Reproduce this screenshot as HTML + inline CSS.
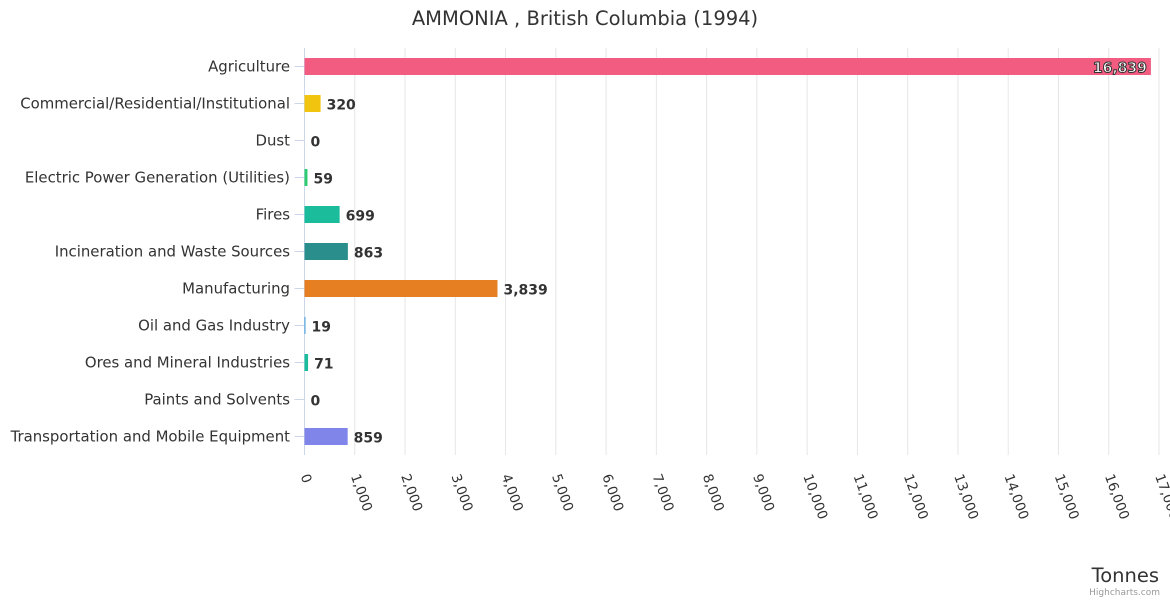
<!DOCTYPE html>
<html><head><meta charset="utf-8"><style>
body{margin:0;background:#fff;font-family:"DejaVu Sans",sans-serif;}
</style></head><body>
<svg id="chart" width="1170" height="600" xmlns="http://www.w3.org/2000/svg" font-family="'DejaVu Sans',sans-serif">
<text x="585" y="25" text-anchor="middle" font-size="19.5" fill="#333">AMMONIA , British Columbia (1994)</text>
<g id="grid"></g><g id="bars"></g><g id="labels"></g><g id="xt"></g>
<text x="1159" y="582" text-anchor="end" font-size="19.5" fill="#333">Tonnes</text>
<text x="1160" y="595" text-anchor="end" font-size="9" fill="#999">Highcharts.com</text>
</svg>
<script>
const categories=["Agriculture","Commercial/Residential/Institutional","Dust","Electric Power Generation (Utilities)","Fires","Incineration and Waste Sources","Manufacturing","Oil and Gas Industry","Ores and Mineral Industries","Paints and Solvents","Transportation and Mobile Equipment"];
const values=[16839,320,0,59,699,863,3839,19,71,0,859];
const colors=["#f15c80","#f1c40f","#2ecc71","#2ecc71","#1abc9c","#2a8f8c","#e67e22","#3498db","#1abc9c","#9b59b6","#8085e9"];
const ticks=[0,1000,2000,3000,4000,5000,6000,7000,8000,9000,10000,11000,12000,13000,14000,15000,16000,17000];
const NS="http://www.w3.org/2000/svg";
const x0=304.5,x1=1159,xmax=17000,yTop=48,rowH=37,yBot=455;
const xs=v=>x0+(x1-x0)*v/xmax;
const ys=i=>yTop+rowH*i+rowH/2;
function mk(p,t,a){const e=document.createElementNS(NS,t);for(const k in a)e.setAttribute(k,a[k]);document.getElementById(p).appendChild(e);return e;}
const fmt=v=>v.toLocaleString('en-US');
ticks.forEach(t=>{
 const g=mk('grid','line',{x1:xs(t),x2:xs(t),y1:yTop,y2:yBot,stroke:t===0?'#ccd6eb':'#e6e6e6','stroke-width':1});
 
 
 const l=mk('xt','text',{x:xs(t)-4,y:476,'font-size':13.5,fill:'#333',transform:`rotate(70 ${xs(t)-4} 476)`});
 l.textContent=fmt(t);
 
 
});
categories.forEach((c,i)=>{
 const y=ys(i);
 const tk=mk('grid','line',{x1:x0-10,x2:x0,y1:y,y2:y,stroke:'#ccd6eb'});
 
 
 const cl=mk('labels','text',{x:290,y:y+5,'text-anchor':'end','font-size':14.9,fill:'#333'});
 cl.textContent=c;
 
 
 const w=xs(values[i])-x0;
 const b=mk('bars','rect',{x:x0,y:y-8.5,width:Math.max(w,0),height:17,fill:colors[i]});
 
 
 const inside=w>800;
 const vl=mk('labels','text',{x:inside?xs(values[i])-4:xs(values[i])+6,y:y+6,'text-anchor':inside?'end':'start','font-size':14,'font-weight':'bold',fill:inside?'#fff':'#333',stroke:inside?'#333':'none','stroke-width':inside?1:0});
 vl.textContent=fmt(values[i]);
 
 
});
</script>
</body></html>
